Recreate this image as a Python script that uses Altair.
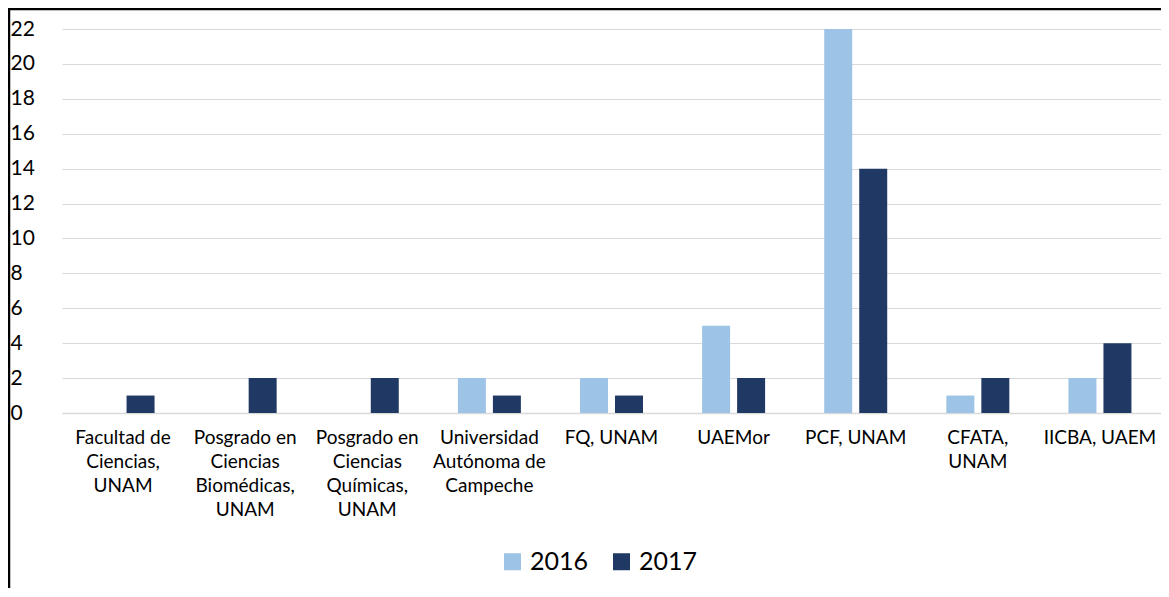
import altair as alt
import pandas as pd

categories = [
    "Facultad de\nCiencias,\nUNAM",
    "Posgrado en\nCiencias\nBiomédicas,\nUNAM",
    "Posgrado en\nCiencias\nQuímicas,\nUNAM",
    "Universidad\nAutónoma de\nCampeche",
    "FQ, UNAM",
    "UAEMor",
    "PCF, UNAM",
    "CFATA,\nUNAM",
    "IICBA, UAEM",
]
series_names = ["2016", "2017"]
values_2016 = [0, 0, 0, 2, 2, 5, 22, 1, 2]
values_2017 = [1, 2, 2, 1, 1, 2, 14, 2, 4]
colors = ["#9DC3E6", "#203864"]
y_ticks = list(range(0, 23, 2))

rows = []
for c, v in zip(categories, values_2016):
    rows.append({"category": c, "year": "2016", "value": v})
for c, v in zip(categories, values_2017):
    rows.append({"category": c, "year": "2017", "value": v})
df = pd.DataFrame(rows)

FONT = "Lato"

bars = alt.Chart(df).mark_bar().encode(
    x=alt.X(
        "category:N",
        sort=categories,
        title=None,
        scale=alt.Scale(paddingInner=0, paddingOuter=0),
        axis=alt.Axis(
            labelAngle=0,
            labelExpr="split(datum.label, '\\n')",
            labelFontSize=19,
            labelFont=FONT,
            labelColor="black",
            labelPadding=15,
            labelLineHeight=24,
            ticks=False,
            domainColor="#D9D9D9",
            domainWidth=1.5,
            labelBaseline="top",
            labelLimit=300,
            grid=False,
        ),
    ),
    xOffset=alt.XOffset(
        "year:N",
        sort=series_names,
        scale=alt.Scale(paddingInner=0.2, paddingOuter=0.845),
    ),
    y=alt.Y(
        "value:Q",
        scale=alt.Scale(domain=[0, 22], nice=False),
        axis=alt.Axis(
            values=y_ticks,
            title=None,
            labelAlign="left",
            labelPadding=52,
            tickSize=0,
            ticks=False,
            domain=False,
            grid=True,
            gridColor="#D9D9D9",
            gridWidth=1.2,
            labelFontSize=21,
            labelFont=FONT,
            labelColor="black",
            labelBaseline="middle",
        ),
    ),
    color=alt.Color(
        "year:N",
        scale=alt.Scale(domain=series_names, range=colors),
        legend=alt.Legend(
            title=None,
            orient="none",
            legendX=438,
            legendY=520,
            direction="horizontal",
            symbolType="square",
            symbolSize=289,
            symbolStrokeWidth=0,
            labelFontSize=25,
            labelFont=FONT,
            labelColor="black",
            labelOffset=5,
            columnPadding=20,
            padding=0,
        ),
    ),
)

frame_df = pd.DataFrame({"k": [0]})
left_border = alt.Chart(frame_df).mark_rule(color="black", strokeWidth=2.5).encode(
    x=alt.value(-53), y=alt.value(-21), y2=alt.value(620)
)
top_border = alt.Chart(frame_df).mark_rule(color="black", strokeWidth=2.5).encode(
    x=alt.value(-54), x2=alt.value(1100), y=alt.value(-20)
)

chart = alt.layer(bars, left_border, top_border).properties(
    width=1099,
    height=384,
    padding={"left": 54, "top": 21, "right": 0, "bottom": 175},
    autosize=alt.AutoSizeParams(type="none"),
).configure_view(stroke=None)

chart.save("out.html", embed_options={"renderer": "svg", "actions": False})
